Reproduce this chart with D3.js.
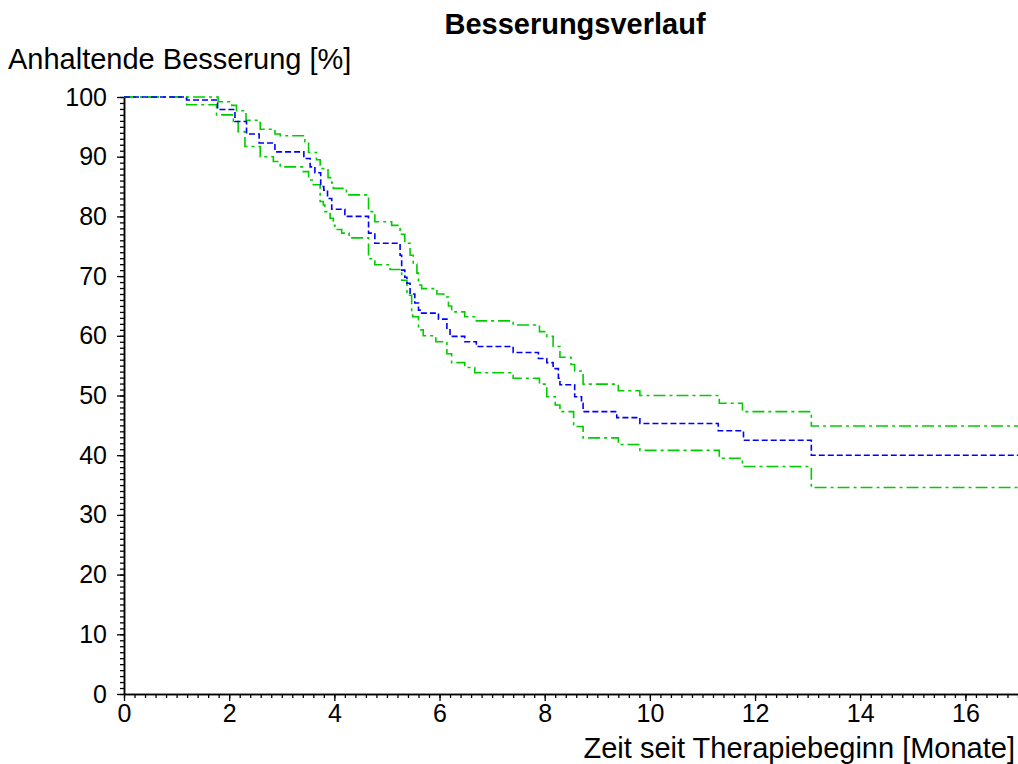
<!DOCTYPE html>
<html>
<head>
<meta charset="utf-8">
<script src="https://cdn.jsdelivr.net/npm/d3@7"></script>
<style>
  html, body { margin: 0; padding: 0; background: #fff; }
  svg { display: block; }
  text { font-family: "Liberation Sans", Arial, sans-serif; fill: #000; }
</style>
</head>
<body>
<svg id="chart" width="1018" height="764"></svg>
<script>
// ---- data ----
const chartTitle = "Besserungsverlauf";
const yAxisTitle = "Anhaltende Besserung [%]";
const xAxisTitle = "Zeit seit Therapiebeginn [Monate]";

const xTickValues = [0, 2, 4, 6, 8, 10, 12, 14, 16];
const yTickValues = [0, 10, 20, 30, 40, 50, 60, 70, 80, 90, 100];

// Kaplan-Meier estimate (blue), step times and values after each step
const estTimes  = [0, 1.19, 1.78, 2.11, 2.33, 2.57, 2.87, 3.42, 3.54, 3.63, 3.74, 3.80, 3.87, 3.95, 4.20, 4.65, 4.77, 5.25, 5.28, 5.34, 5.38, 5.44, 5.53, 5.60, 5.66, 5.98, 6.14, 6.20, 6.48, 6.70, 7.40, 7.88, 8.04, 8.16, 8.26, 8.29, 8.57, 8.70, 8.73, 9.37, 9.81, 11.30, 11.78, 13.07];
const estValues = [100, 99.5, 97.9, 95.9, 93.8, 92.3, 90.8, 89.7, 88.3, 87.3, 85.0, 84.4, 83.0, 81.2, 80.0, 77.2, 75.5, 73.5, 71.0, 69.8, 68.8, 67.0, 65.5, 64.3, 63.8, 62.8, 61.0, 59.9, 59.0, 58.2, 57.2, 56.2, 55.5, 54.5, 52.9, 51.8, 49.8, 48.7, 47.3, 46.3, 45.3, 44.1, 42.5, 40.0];

// upper confidence bound (green)
const upperTimes  = [0, 1.79, 2.05, 2.14, 2.32, 2.59, 2.87, 2.97, 3.44, 3.51, 3.66, 3.73, 3.88, 3.95, 3.98, 4.23, 4.65, 4.77, 5.09, 5.25, 5.34, 5.44, 5.50, 5.57, 5.60, 5.66, 5.95, 6.08, 6.17, 6.23, 6.48, 6.70, 7.40, 7.90, 8.04, 8.16, 8.29, 8.50, 8.57, 8.73, 9.40, 9.81, 11.32, 11.76, 13.07];
const upperValues = [100, 99.2, 98.6, 97.7, 96.1, 94.6, 93.8, 93.5, 92.5, 90.7, 89.5, 88.0, 86.5, 85.6, 84.7, 83.6, 80.8, 79.1, 78.5, 77.0, 75.5, 73.5, 72.0, 70.5, 68.5, 67.9, 67.0, 66.5, 65.0, 64.0, 63.2, 62.5, 61.8, 60.7, 59.9, 58.2, 56.4, 55.2, 54.1, 51.9, 50.8, 50.0, 48.7, 47.3, 44.9];

// lower confidence bound (green)
const lowerTimes  = [0, 1.19, 1.76, 2.08, 2.17, 2.30, 2.59, 2.84, 2.97, 3.41, 3.51, 3.60, 3.73, 3.79, 3.82, 3.92, 3.98, 4.01, 4.14, 4.28, 4.65, 4.77, 5.06, 5.28, 5.38, 5.47, 5.49, 5.60, 5.69, 5.93, 6.14, 6.23, 6.48, 6.67, 7.40, 7.90, 8.04, 8.20, 8.29, 8.55, 8.73, 9.40, 9.81, 11.32, 11.76, 13.07];
const lowerValues = [100, 98.7, 97.0, 95.9, 94.2, 91.7, 90.0, 89.2, 88.3, 87.5, 86.1, 85.3, 82.5, 81.9, 80.8, 79.7, 78.5, 77.8, 77.2, 76.4, 72.9, 71.9, 71.1, 69.3, 66.8, 63.8, 63.2, 61.0, 60.0, 59.0, 57.0, 55.5, 54.7, 53.8, 52.9, 51.9, 49.8, 48.4, 47.3, 44.8, 42.9, 41.8, 40.8, 39.5, 38.1, 34.6];

const xMax = 17;

// ---- layout ----
const W = 1018, H = 764;
const margin = { left: 124, right: 0, top: 97, bottom: 70 };
const svg = d3.select("#chart");

const x = d3.scaleLinear().domain([0, xMax]).range([margin.left, W - margin.right]);
const y = d3.scaleLinear().domain([0, 100]).range([H - margin.bottom, margin.top]);

const tickFont = 25;
const titleFont = 29;

// minor ticks
const xMinor = d3.range(0, xMax + 0.0001, 0.2).map(v => +v.toFixed(1));
const yMinor = d3.range(0, 101, 1);

const gx = svg.append("g").attr("transform", `translate(0,${y(0)})`);
gx.call(d3.axisBottom(x).tickValues(xMinor).tickSize(4).tickSizeOuter(0).tickFormat(""));
gx.append("g").call(d3.axisBottom(x).tickValues(xTickValues).tickSize(7).tickSizeOuter(0).tickPadding(3).tickFormat(d3.format("d")));

const gy = svg.append("g").attr("transform", `translate(${x(0)},0)`);
gy.call(d3.axisLeft(y).tickValues(yMinor).tickSize(4).tickSizeOuter(0).tickFormat(""));
gy.append("g").call(d3.axisLeft(y).tickValues(yTickValues).tickSize(7).tickSizeOuter(0).tickPadding(10).tickFormat(d3.format("d")));

svg.selectAll(".domain").attr("stroke", "#000").attr("stroke-width", 1.5);
svg.selectAll(".tick line").attr("stroke", "#000").attr("stroke-width", 1.3);
svg.selectAll(".tick text")
  .style("font-family", '"Liberation Sans", Arial, sans-serif')
  .style("font-size", tickFont + "px")
  .attr("fill", "#000");

// ---- curves ----
const line = d3.line().x(d => x(d[0])).y(d => y(d[1])).curve(d3.curveStepAfter);
function series(times, values) {
  const pts = times.map((t, i) => [t, values[i]]);
  pts.push([xMax, values[values.length - 1]]);
  return pts;
}

const curves = [
  { pts: series(upperTimes, upperValues), color: "#00cc00", dash: "12,4,3,4" },
  { pts: series(lowerTimes, lowerValues), color: "#00cc00", dash: "12,4,3,4" },
  { pts: series(estTimes, estValues), color: "#0000ff", dash: "6,3" }
];

svg.append("g").selectAll("path").data(curves).join("path")
  .attr("d", d => line(d.pts))
  .attr("fill", "none")
  .attr("stroke", d => d.color)
  .attr("stroke-width", 1.6)
  .attr("stroke-dasharray", d => d.dash);

// ---- titles ----
svg.append("text")
  .attr("x", 575).attr("y", 34)
  .attr("text-anchor", "middle")
  .style("font-size", titleFont + "px")
  .style("font-weight", "bold")
  .text(chartTitle);

svg.append("text")
  .attr("x", 8).attr("y", 69)
  .style("font-size", titleFont + "px")
  .text(yAxisTitle);

svg.append("text")
  .attr("x", 1015).attr("y", 758)
  .attr("text-anchor", "end")
  .style("font-size", titleFont + "px")
  .text(xAxisTitle);
</script>
</body>
</html>
